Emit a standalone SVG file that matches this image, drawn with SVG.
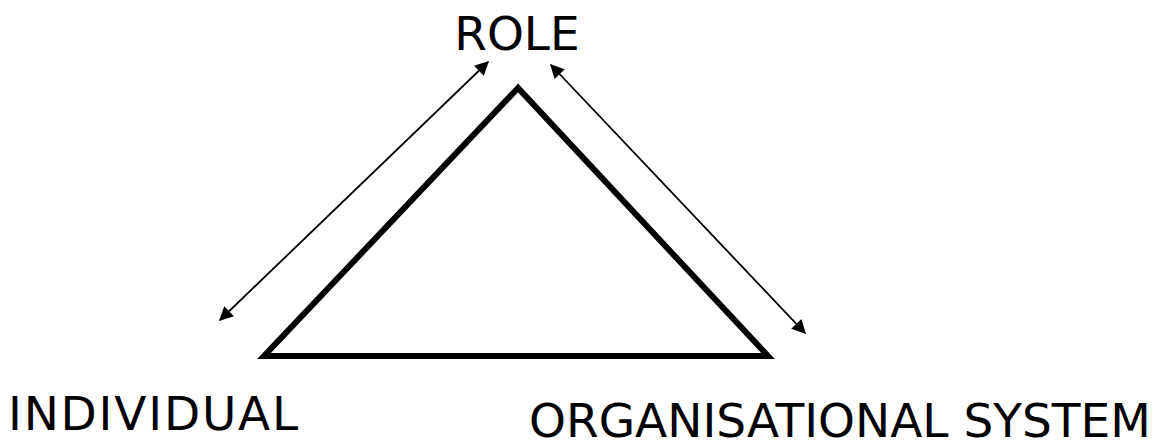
<svg xmlns="http://www.w3.org/2000/svg" width="1162" height="441" viewBox="0 0 1162 441">
  <style>
    .label { font-family: "DejaVu Sans", Verdana, sans-serif; font-size: 47px; fill: #000; }
    .link { stroke: #000; stroke-width: 1.8; fill: none; marker-start: url(#head); marker-end: url(#head); }
    .tri { stroke: #000; stroke-width: 6; fill: #fff; stroke-linejoin: miter; }
  </style>
  <defs>
    <marker id="head" viewBox="0 0 10 10" refX="9" refY="5" markerWidth="15" markerHeight="14" markerUnits="userSpaceOnUse" orient="auto-start-reverse">
      <path d="M0,0 L10,5 L0,10 z" fill="#000"/>
    </marker>
  </defs>
  <rect width="1162" height="441" fill="#fff"/>

  <g id="triangle">
    <polygon class="tri" points="518,88 264,356 768,356"/>
  </g>

  <g id="connectors">
    <line class="link" x1="488" y1="62" x2="220" y2="320"/>
    <line class="link" x1="551" y1="65" x2="805" y2="333"/>
  </g>

  <g id="role">
    <text class="label" x="517" y="50" text-anchor="middle">ROLE</text>
  </g>
  <g id="individual">
    <text class="label" x="8" y="430" letter-spacing="1.8">INDIVIDUAL</text>
  </g>
  <g id="organisational-system">
    <text class="label" x="529" y="437">ORGANISATIONAL SYSTEM</text>
  </g>
</svg>
